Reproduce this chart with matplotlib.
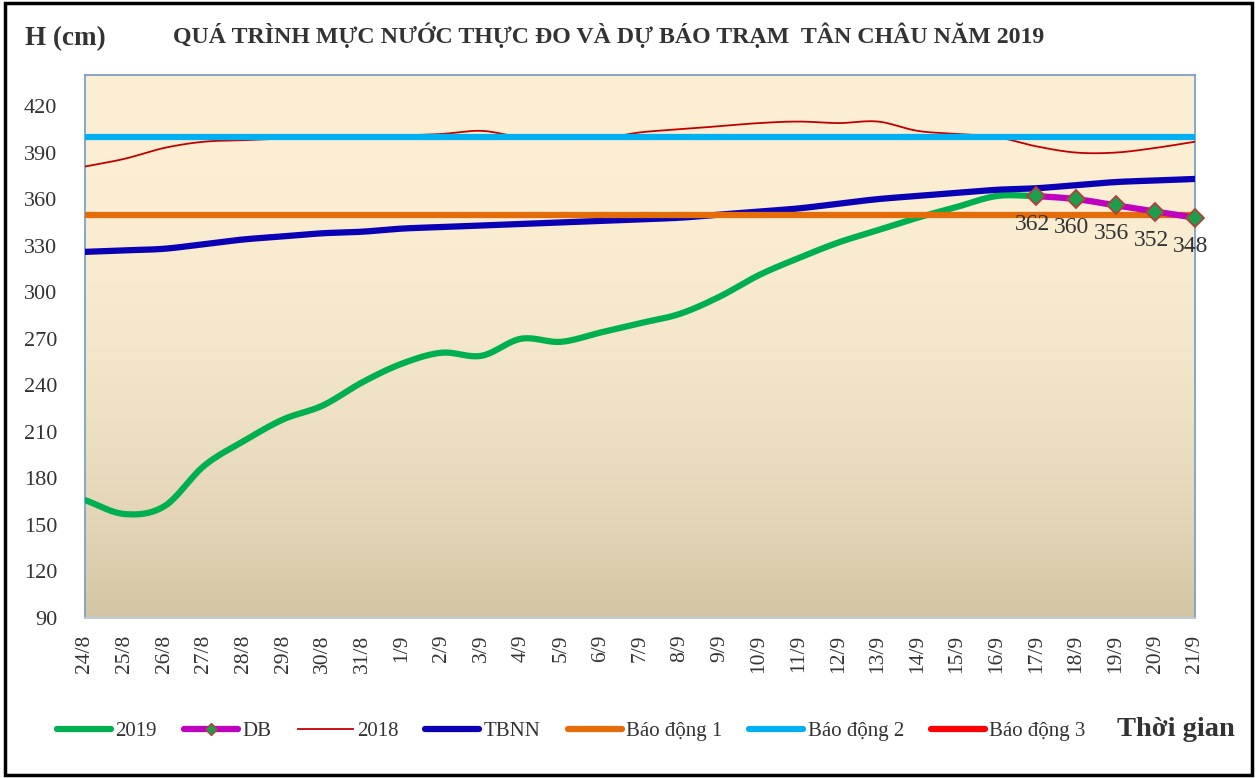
import numpy as np
import matplotlib
matplotlib.use("Agg")
import matplotlib.pyplot as plt
from matplotlib.lines import Line2D
from matplotlib.patches import Rectangle

plt.rcParams['font.family'] = ['Liberation Serif', 'DejaVu Serif']

# ---------------- data ----------------
dates = ["24/8", "25/8", "26/8", "27/8", "28/8", "29/8", "30/8", "31/8", "1/9", "2/9",
         "3/9", "4/9", "5/9", "6/9", "7/9", "8/9", "9/9", "10/9", "11/9", "12/9",
         "13/9", "14/9", "15/9", "16/9", "17/9", "18/9", "19/9", "20/9", "21/9"]

h2019 = [166, 157, 162, 188, 204, 218, 227, 242, 254, 261,
         259, 270, 268, 274, 280, 286, 297, 311, 322, 332,
         340, 348, 355, 362, 362]

db_dates = ["17/9", "18/9", "19/9", "20/9", "21/9"]
db = [362, 360, 356, 352, 348]

h2018 = [381, 386, 393, 397, 398, 399, 401, 400, 401, 402,
         404, 400, 399, 399, 403, 405, 407, 409, 410, 409,
         410, 404, 402, 400, 394, 390, 390, 393, 397]

tbnn = [326, 327, 328, 331, 334, 336, 338, 339, 341, 342,
        343, 344, 345, 346, 347, 348, 350, 352, 354, 357,
        360, 362, 364, 366, 367, 369, 371, 372, 373]

bd1 = 350
bd2 = 400
bd3 = 450

yticks = [90, 120, 150, 180, 210, 240, 270, 300, 330, 360, 390, 420]


def smooth(xs, ys, n=20):
    """Catmull-Rom curve drawn through the data points (display smoothing only)."""
    xs = np.asarray(xs, float)
    ys = np.asarray(ys, float)
    if len(xs) < 3:
        return xs, ys
    px = np.concatenate([[2 * xs[0] - xs[1]], xs, [2 * xs[-1] - xs[-2]]])
    py = np.concatenate([[2 * ys[0] - ys[1]], ys, [2 * ys[-1] - ys[-2]]])
    ox, oy = [], []
    t = np.linspace(0, 1, n, endpoint=False)
    for i in range(1, len(px) - 2):
        for P, out in ((px, ox), (py, oy)):
            p0, p1, p2, p3 = P[i - 1], P[i], P[i + 1], P[i + 2]
            out.extend(0.5 * ((2 * p1) + (-p0 + p2) * t +
                              (2 * p0 - 5 * p1 + 4 * p2 - p3) * t ** 2 +
                              (-p0 + 3 * p1 - 3 * p2 + p3) * t ** 3))
    ox.append(xs[-1])
    oy.append(ys[-1])
    return np.array(ox), np.array(oy)


W, H = 1259, 778
fig = plt.figure(figsize=(W / 100, H / 100), dpi=100)

# outer frame
fig.patches.append(Rectangle((5 / W, 3 / H), (1252 - 5) / W, (775 - 3) / H,
                             transform=fig.transFigure, fill=False,
                             edgecolor='black', linewidth=2.5))

ax = fig.add_axes([85 / W, 1 - 618 / H, (1195 - 85) / W, (618 - 75) / H])

x = np.arange(len(dates))
x19 = x[:len(h2019)]
xdb = np.array([dates.index(d) for d in db_dates])

# gradient background
top = np.array([253, 239, 212]) / 255
bot = np.array([212, 198, 164]) / 255
g = np.linspace(0, 1, 256)
w = g ** 2.2
img = (top[None, :] * (1 - w[:, None]) + bot[None, :] * w[:, None])[:, None, :]
ax.imshow(img, extent=[0, 1, 0, 1], transform=ax.transAxes, aspect='auto',
          zorder=0, interpolation='bilinear')

c2019 = '#00B050'
cdb = '#C000C0'
c2018 = '#C00000'
ctb = '#0A00B4'
cb1 = '#E46C0A'
cb2 = '#00B0F0'
cb3 = '#FF0000'

sx, sy = smooth(x19, h2019)
ax.plot(sx, sy, color=c2019, lw=4.5, solid_capstyle='round', zorder=3)
sx, sy = smooth(x, h2018)
ax.plot(sx, sy, color=c2018, lw=1.3, zorder=3)
sx, sy = smooth(x, tbnn)
ax.plot(sx, sy, color=ctb, lw=4.5, zorder=4)
ax.plot(x, [bd1] * len(x), color=cb1, lw=4.5, zorder=5)
ax.plot(x, [bd2] * len(x), color=cb2, lw=4.5, zorder=5)
ax.plot(x, [bd3] * len(x), color=cb3, lw=4.5, zorder=5)
sx, sy = smooth(xdb, db)
ax.plot(sx, sy, color=cdb, lw=4.5, zorder=6)
ax.plot(xdb, db, linestyle='none', marker='D', markersize=9.5,
        markerfacecolor='#1E9E4A', markeredgecolor='#B04040', markeredgewidth=1.3, zorder=7,
        clip_on=False)
for xi, v in zip(xdb, db):
    ax.annotate(str(v), (xi, v), xytext=(-3, -13), textcoords='offset points',
                ha='center', va='top', fontsize=17, color='#333333', zorder=8,
                annotation_clip=False)

ax.set_xlim(0, len(dates) - 1)
ax.set_ylim(90, 440)
ax.set_yticks(yticks)
ax.set_yticklabels([str(v) for v in yticks], fontsize=16, color='#333333')
ax.set_xticks(x)
ax.set_xticklabels(dates, rotation=90, fontsize=15.5, color='#333333')
ax.tick_params(length=0, pad=12)
ax.tick_params(axis='y', pad=20)
for s in ax.spines.values():
    s.set_color('#7BA0CD')
    s.set_linewidth(1.3)
ax.spines['bottom'].set_color('#B8C8E0')

fig.text(25 / W, 1 - 39 / H, "H (cm)", fontsize=19.5, fontweight='bold',
         color='#333333', ha='left', va='center')
fig.text(173 / W, 1 - 35 / H,
         "QUÁ TRÌNH MỰC NƯỚC THỰC ĐO VÀ DỰ BÁO TRẠM  TÂN CHÂU NĂM 2019",
         fontsize=17.2, fontweight='bold', color='#333333', ha='left', va='center')

handles = [
    Line2D([], [], color=c2019, lw=4.5, solid_capstyle='round'),
    Line2D([], [], color=cdb, lw=4.5, solid_capstyle='round', marker='D', markersize=6,
           markerfacecolor='#1E9E4A', markeredgecolor='#B04040'),
    Line2D([], [], color=c2018, lw=1.3),
    Line2D([], [], color=ctb, lw=4.5, solid_capstyle='round'),
    Line2D([], [], color=cb1, lw=4.5, solid_capstyle='round'),
    Line2D([], [], color=cb2, lw=4.5, solid_capstyle='round'),
    Line2D([], [], color=cb3, lw=4.5, solid_capstyle='round'),
]
labels = ["2019", "DB", "2018", "TBNN", "Báo động 1", "Báo động 2", "Báo động 3"]
leg = fig.legend(handles, labels, loc='center left', bbox_to_anchor=(57 / W, 1 - 731 / H),
                 ncol=7, frameon=False, fontsize=15, handlelength=2.6,
                 handletextpad=0.2, columnspacing=1.3, labelcolor='#333333',
                 borderaxespad=0, borderpad=0)

fig.text(1176 / W, 1 - 729 / H, "Thời gian", fontsize=20.5, fontweight='bold',
         color='#333333', ha='center', va='center')

fig.savefig("out.png", dpi=100)
